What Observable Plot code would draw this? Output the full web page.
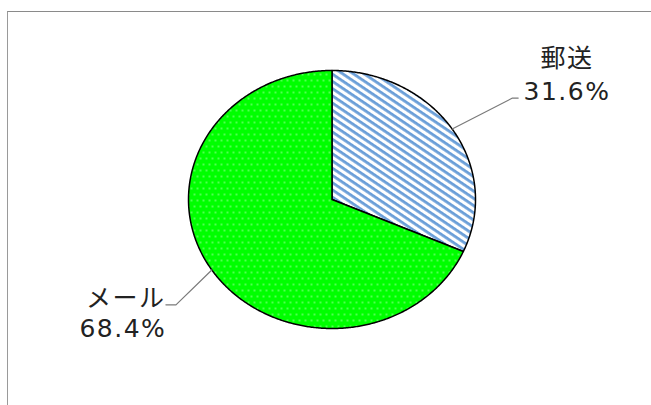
<!DOCTYPE html>
<html>
<head>
<meta charset="utf-8">
<script src="https://cdn.jsdelivr.net/npm/d3@7"></script>
<script src="https://cdn.jsdelivr.net/npm/@observablehq/plot@0.6"></script>
<style>
  html, body { margin: 0; padding: 0; background: #fff; }
  #wrap { position: relative; width: 651px; height: 405px; overflow: hidden; }
  #frame { position: absolute; left: 7px; top: 11px; right: -2px; bottom: -2px;
           border-left: 1px solid #9a9a9a; border-top: 1px solid #8a8a8a; pointer-events: none; }
  #wrap svg { position: absolute; left: 0; top: 0; }
</style>
</head>
<body>
<div id="wrap"><div id="frame"></div></div>
<script>
// ---- data ----
const categories = ["郵送", "メール"];
const shares = [31.6, 68.4];
const labels = ["31.6%", "68.4%"];

// ---- layout (code only) ----
const W = 651, H = 405;
const arcs = d3.pie().sort(null).value((d, i) => shares[i])(categories);

// wedge polygons in unit-circle data space (y up), from pie angles
const wedges = [];
arcs.forEach((a, i) => {
  wedges.push({cat: categories[i], x: 0, y: 0});
  const n = Math.max(2, Math.ceil((a.endAngle - a.startAngle) / (Math.PI / 360)));
  for (let k = 0; k <= n; k++) {
    const t = a.startAngle + (a.endAngle - a.startAngle) * k / n;
    wedges.push({cat: categories[i], x: Math.sin(t), y: Math.cos(t)});
  }
});

// leader lines and label positions derived from slice mid-angles
const leaders = [], nameRows = [], pctRows = [];
arcs.forEach((a, i) => {
  const m = (a.startAngle + a.endAngle) / 2;
  const sx = Math.sin(m), sy = Math.cos(m);
  const right = sx >= 0;
  const ex = sx + (right ? 0.42 : -0.25);
  const ey = sy + (right ? 0.24 : -0.27);
  const hx = ex + (right ? 0.04 : -0.07);
  leaders.push({cat: categories[i], x: sx, y: sy});
  leaders.push({cat: categories[i], x: ex, y: ey});
  leaders.push({cat: categories[i], x: hx, y: ey});
  const cx = hx + (right ? 0.34 : -0.30);
  if (right) {
    pctRows.push({x: cx, y: ey - 0.016, t: labels[i]});
    nameRows.push({x: cx, y: ey - 0.016 + 0.255, t: categories[i]});
  } else {
    nameRows.push({x: cx + 0.02, y: ey - 0.017, t: categories[i]});
    pctRows.push({x: cx, y: ey - 0.017 - 0.235, t: labels[i]});
  }
});

const defs = () => {
  const g = d3.create("svg:defs");
  const h = g.append("pattern").attr("id", "hatch").attr("patternUnits", "userSpaceOnUse")
    .attr("width", 6).attr("height", 6).attr("patternTransform", "rotate(34)");
  h.append("rect").attr("width", 6).attr("height", 6).attr("fill", "#ffffff");
  h.append("rect").attr("y", 0).attr("width", 6).attr("height", 2.8).attr("fill", "#6a9ed8");
  const p = g.append("pattern").attr("id", "dots").attr("patternUnits", "userSpaceOnUse")
    .attr("width", 12).attr("height", 12);
  p.append("rect").attr("width", 12).attr("height", 12).attr("fill", "#00ff00");
  for (const [x, y] of [[2, 2], [8, 2], [5, 8], [11, 8]]) {
    p.append("circle").attr("cx", x).attr("cy", y).attr("r", 0.8).attr("fill", "#b8ffb8");
  }
  return g.node();
};

const font = "'DejaVu Sans', 'Noto Sans CJK JP', sans-serif";

const chart = Plot.plot({
  width: W, height: H,
  marginLeft: 188, marginRight: 176, marginTop: 70, marginBottom: 77,
  x: {domain: [-1, 1], axis: null},
  y: {domain: [-1, 1], axis: null},
  color: {domain: categories, range: ["url(#hatch)", "url(#dots)"]},
  style: {fontFamily: font, background: "transparent", overflow: "visible"},
  marks: [
    defs,
    Plot.line(wedges, {x: "x", y: "y", z: "cat", fill: "cat", stroke: "#000", strokeWidth: 1.5,
      curve: "linear-closed", strokeLinejoin: "round"}),
    Plot.line(leaders, {x: "x", y: "y", z: "cat", stroke: "#7a7a7a", strokeWidth: 1.2}),
    Plot.text(nameRows, {x: "x", y: "y", text: "t", fontSize: 25, lineAnchor: "bottom",
      textAnchor: "middle", fill: "#222"}),
    Plot.text(pctRows, {x: "x", y: "y", text: "t", fontSize: 25, lineAnchor: "bottom",
      textAnchor: "middle", fill: "#222"})
  ]
});
chart.querySelectorAll("text").forEach(t => t.style.letterSpacing = "1.5px");
document.getElementById("wrap").appendChild(chart);
</script>
</body>
</html>
